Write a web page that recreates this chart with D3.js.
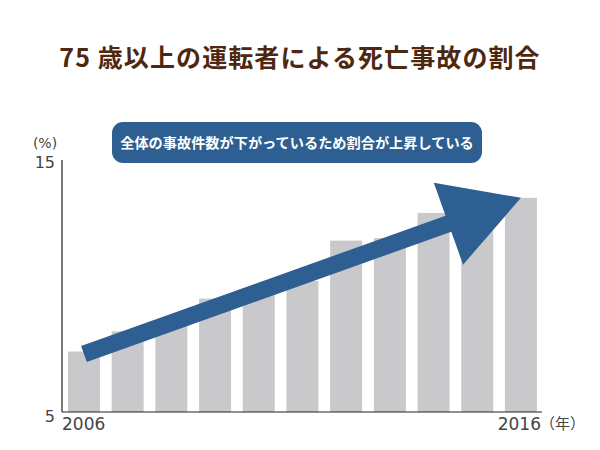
<!DOCTYPE html>
<html>
<head>
<meta charset="utf-8">
<script src="https://cdn.jsdelivr.net/npm/d3@7"></script>
<style>
  html, body { margin: 0; padding: 0; background: #fff; }
  svg { display: block; }
</style>
</head>
<body>
<svg id="chart" width="600" height="450"></svg>
<script>
// ---- data ----
const titleText = "75 歳以上の運転者による死亡事故の割合";
const noteText = "全体の事故件数が下がっているため割合が上昇している";
const years = [2006, 2007, 2008, 2009, 2010, 2011, 2012, 2013, 2014, 2015, 2016];
const shares = [7.4, 8.2, 8.6, 9.5, 9.8, 10.2, 11.8, 11.9, 12.9, 13.0, 13.5];
const yTicks = [5, 15];
const xTickLabels = ["2006", "2016"];
const yUnit = "(%)";
const xUnit = "（年）";
// trend arrow (data space): start and end
const arrowFrom = { year: 2006, value: 7.3 };
const arrowTo = { year: 2016, value: 13.5 };

// ---- chart ----
const svg = d3.select("#chart");
const x = d3.scaleBand().domain(years).range([63.6, 541.3]).paddingInner(0.268).paddingOuter(0.1);
const y = d3.scaleLinear().domain([5, 15]).range([412, 160]);

const blue = "#2d5f92";
const textGrey = "#444";

// title
svg.append("text")
  .attr("x", 300).attr("y", 67)
  .attr("text-anchor", "middle")
  .attr("font-family", "'Noto Sans CJK JP', 'Noto Sans', sans-serif")
  .attr("font-weight", "bold")
  .attr("font-size", 25)
  .attr("letter-spacing", 1.1)
  .attr("fill", "#4e2710")
  .text(titleText);

// bars
svg.append("g").selectAll("rect").data(years).join("rect")
  .attr("x", d => x(d))
  .attr("width", x.bandwidth())
  .attr("y", (d, i) => y(shares[i]))
  .attr("height", (d, i) => y(5) - y(shares[i]))
  .attr("fill", "#c9c9cb");

// axes lines
svg.append("line").attr("x1", 62).attr("x2", 62).attr("y1", y(15)).attr("y2", y(5))
  .attr("stroke", "#222").attr("stroke-width", 1.2);
svg.append("line").attr("x1", 62).attr("x2", 542).attr("y1", y(5)).attr("y2", y(5))
  .attr("stroke", "#222").attr("stroke-width", 1.2);

// y tick labels
const numFont = "'DejaVu Sans', Verdana, sans-serif";
svg.append("g").selectAll("text").data(yTicks).join("text")
  .attr("x", 55)
  .attr("y", d => y(d) + (d === 15 ? 8 : 10))
  .attr("text-anchor", "end")
  .attr("font-family", numFont)
  .attr("font-size", 16)
  .attr("fill", textGrey)
  .text(d => d);

svg.append("text")
  .attr("x", 45).attr("y", 148)
  .attr("text-anchor", "middle")
  .attr("font-family", numFont)
  .attr("font-size", 14)
  .attr("fill", textGrey)
  .text(yUnit);

// x tick labels
svg.append("text")
  .attr("x", 62).attr("y", 430)
  .attr("font-family", numFont)
  .attr("font-size", 17)
  .attr("fill", textGrey)
  .text(xTickLabels[0]);
svg.append("text")
  .attr("x", 541).attr("y", 430)
  .attr("text-anchor", "end")
  .attr("font-family", numFont)
  .attr("font-size", 17)
  .attr("fill", textGrey)
  .text(xTickLabels[1]);
svg.append("text")
  .attr("x", 540).attr("y", 429)
  .attr("font-family", "'Noto Sans CJK JP', sans-serif")
  .attr("font-size", 15)
  .attr("fill", textGrey)
  .text(xUnit);

// note box
const note = svg.append("g");
note.append("rect")
  .attr("x", 112).attr("y", 122).attr("width", 370).attr("height", 41)
  .attr("rx", 11).attr("ry", 11)
  .attr("fill", blue);
note.append("text")
  .attr("x", 297).attr("y", 148)
  .attr("text-anchor", "middle")
  .attr("font-family", "'Noto Sans CJK JP', sans-serif")
  .attr("font-weight", "bold")
  .attr("font-size", 14.2)
  .attr("fill", "#fff")
  .text(noteText);

// arrow
const x0 = x(arrowFrom.year) + x.bandwidth() / 2, y0 = y(arrowFrom.value);
const x1 = x(arrowTo.year) + x.bandwidth() / 2, y1 = y(arrowTo.value);
const L = Math.hypot(x1 - x0, y1 - y0);
const ang = Math.atan2(y1 - y0, x1 - x0) * 180 / Math.PI;
const sw = 8.5, headLen = 77, headW = 43.5;
const pts = [[0, -sw], [L - headLen, -sw], [L - headLen, -headW], [L, 0],
             [L - headLen, headW], [L - headLen, sw], [0, sw]];
svg.append("polygon")
  .attr("points", pts.map(p => p.join(",")).join(" "))
  .attr("transform", `translate(${x0},${y0}) rotate(${ang})`)
  .attr("fill", blue);
</script>
</body>
</html>
